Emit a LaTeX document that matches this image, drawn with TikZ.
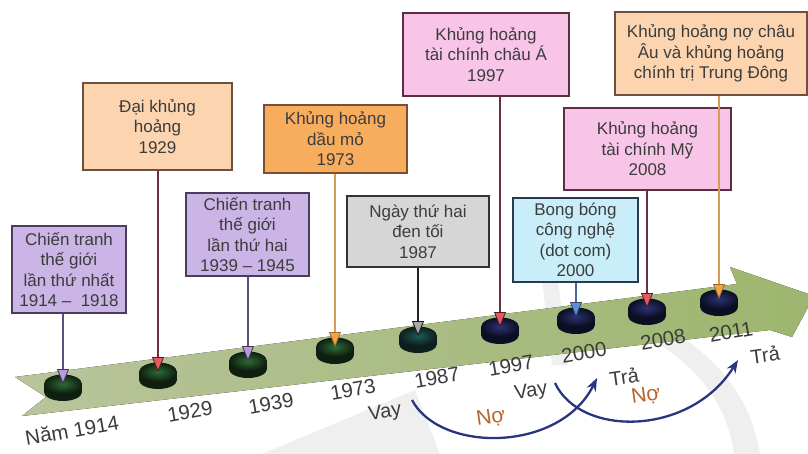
\documentclass[tikz,border=0pt]{standalone}
\usepackage{fontspec}
\setmainfont{Liberation Sans}
\usetikzlibrary{arrows.meta,shadows}
\definecolor{txt}{HTML}{3C3C3C}
\definecolor{fPurple}{HTML}{CBB4E6}\definecolor{ePurple}{HTML}{4B3C5C}
\definecolor{fPeach}{HTML}{FCD5B0}\definecolor{ePeach}{HTML}{6E5040}
\definecolor{fOrange}{HTML}{F8AD5E}\definecolor{eOrange}{HTML}{7A5030}
\definecolor{fGray}{HTML}{D6D6D6}\definecolor{eGray}{HTML}{333333}
\definecolor{fPink}{HTML}{F8C5E8}\definecolor{ePink}{HTML}{5A3040}
\definecolor{fBlue}{HTML}{C9EEFA}\definecolor{eBlue}{HTML}{2A3A50}
\definecolor{bandL}{HTML}{B9C49C}\definecolor{bandR}{HTML}{9DB66E}
\definecolor{hPurple}{HTML}{B79BDC}\definecolor{lPurple}{HTML}{5F4F7F}
\definecolor{hRed}{HTML}{E8585F}\definecolor{lRed}{HTML}{6A2F3A}
\definecolor{hOrange}{HTML}{F4A43A}\definecolor{lOrange}{HTML}{D99A55}
\definecolor{hGray}{HTML}{A8A8A8}\definecolor{lGray}{HTML}{222222}
\definecolor{hBlue}{HTML}{5B8FD8}\definecolor{lBlue}{HTML}{4A6A9A}
\definecolor{arcBlue}{HTML}{2A3580}
\definecolor{noColor}{HTML}{B8642A}
\definecolor{wm}{HTML}{EFEFEF}
\definecolor{pkGreen}{HTML}{2E6B36}\definecolor{pkGreenD}{HTML}{0E1F10}
\definecolor{pkTeal}{HTML}{1F5A55}\definecolor{pkTealD}{HTML}{0C1F1D}
\definecolor{pkNavy}{HTML}{2C3272}\definecolor{pkNavyD}{HTML}{0C0E24}
\newcommand\drawpuck[3]{\begin{scope}[shift={(#1)}]
 \fill[#3] (0,8) ellipse [x radius=19pt, y radius=9pt];
 \fill[#3] (-19,0) rectangle (19,8);
 \shade[inner color=#2, outer color=#3] (0,0) ellipse [x radius=19pt, y radius=9.5pt];
\end{scope}}
\tikzset{
 evbox/.style={rectangle, line width=1.3pt, align=center, text=txt, inner sep=2pt,
   font=\fontsize{17}{20.5}\selectfont,
   drop shadow={shadow xshift=1.3pt, shadow yshift=-1.3pt, opacity=0.35}},
 purplebox/.style={evbox, fill=fPurple, draw=ePurple},
 peachbox/.style={evbox, fill=fPeach, draw=ePeach},
 orangebox/.style={evbox, fill=fOrange, draw=eOrange},
 graybox/.style={evbox, fill=fGray, draw=eGray},
 pinkbox/.style={evbox, fill=fPink, draw=ePink},
 bluebox/.style={evbox, fill=fBlue, draw=eBlue},
 conn/.style 2 args={line width=1.6pt, draw=#1,
   -{Triangle[width=12pt,length=15pt,fill=#2,color=#1!70!black,line width=0.8pt]}},
 yr/.style={font=\fontsize{20.5}{24}\selectfont, text=txt, rotate=10, inner sep=0pt},
 word/.style={font=\fontsize{20}{24}\selectfont, text=txt, rotate=8, inner sep=0pt},
 noword/.style={font=\fontsize{21}{24}\selectfont, text=noColor, rotate=8, inner sep=0pt},
 debt/.style={draw=arcBlue, line width=2.3pt, -{Stealth[length=13pt,width=10pt]}}
}
\begin{document}
\begin{tikzpicture}[x=1pt,y=-1pt]
\useasboundingbox[fill=white] (0,0) rectangle (808,454);
% faint watermark
\fill[wm] (650,338) .. controls (705,372) and (728,410) .. (734,454) -- (760,454)
  .. controls (752,405) and (725,362) .. (668,328) -- cycle;
\fill[wm] (262,454) -- (415,390) -- (440,454) -- cycle;
\fill[wm] (540,262) -- (556,262) -- (568,365) -- (552,365) -- cycle;
% timeline band
\fill[left color=bandL, right color=bandR] (15,377) -- (46,397) -- (22,416) -- (770,330)
  -- (792,337) -- (814,296) -- (730,267) -- (737,284) -- cycle;
% pucks
\coordinate (p1914) at (63,384);
\coordinate (p1929) at (158,372);
\coordinate (p1939) at (248,361);
\coordinate (p1973) at (335,347);
\coordinate (p1987) at (418,336);
\coordinate (p1997) at (500,327);
\coordinate (p2000) at (576,317);
\coordinate (p2008) at (647,308);
\coordinate (p2011) at (719,299);
\drawpuck{p1914}{pkGreen}{pkGreenD}
\drawpuck{p1929}{pkGreen}{pkGreenD}
\drawpuck{p1939}{pkGreen}{pkGreenD}
\drawpuck{p1973}{pkGreen}{pkGreenD}
\drawpuck{p1987}{pkTeal}{pkTealD}
\drawpuck{p1997}{pkNavy}{pkNavyD}
\drawpuck{p2000}{pkNavy}{pkNavyD}
\drawpuck{p2008}{pkNavy}{pkNavyD}
\drawpuck{p2011}{pkNavy}{pkNavyD}
% boxes
\node[peachbox, minimum width=149pt, minimum height=87pt] (b1929) at (157.5,126.5) {Đại khủng\\hoảng\\1929};
\node[orangebox, minimum width=143pt, minimum height=68pt] (b1973) at (335.5,139) {Khủng hoảng\\dầu mỏ\\1973};
\node[pinkbox, minimum width=166pt, minimum height=83pt] (b1997) at (486,54.5) {Khủng hoảng\\tài chính châu Á\\1997};
\node[peachbox, minimum width=192pt, minimum height=83pt] (b2011) at (711,53.5) {Khủng hoảng nợ châu\\Âu và khủng hoảng\\chính trị Trung Đông};
\node[pinkbox, minimum width=167pt, minimum height=82pt] (b2008) at (647.5,149) {Khủng hoảng\\tài chính Mỹ\\2008};
\node[purplebox, minimum width=123pt, minimum height=83pt] (b1939) at (247.5,234.5) {Chiến tranh\\thế giới\\lần thứ hai\\1939 – 1945};
\node[graybox, minimum width=142pt, minimum height=71pt] (b1987) at (418,231.5) {Ngày thứ hai\\đen tối\\1987};
\node[bluebox, minimum width=125pt, minimum height=84pt] (b2000) at (575.5,240) {Bong bóng\\công nghệ\\(dot com)\\2000};
\node[purplebox, minimum width=114pt, minimum height=87pt] (b1914) at (69,269.5) {Chiến tranh\\thế giới\\lần thứ nhất\\1914 –\ \ 1918};
% connectors
\draw[conn={lPurple}{hPurple}] (b1914.south -| p1914) -- (p1914);
\draw[conn={lRed}{hRed}] (b1929.south -| p1929) -- (p1929);
\draw[conn={lPurple}{hPurple}] (b1939.south -| p1939) -- (p1939);
\draw[conn={lOrange}{hOrange}] (b1973.south -| p1973) -- (p1973);
\draw[conn={lGray}{hGray}] (b1987.south -| p1987) -- (p1987);
\draw[conn={lRed}{hRed}] (b1997.south -| p1997) -- (p1997);
\draw[conn={lBlue}{hBlue}] (b2000.south -| p2000) -- (p2000);
\draw[conn={lRed}{hRed}] (b2008.south -| p2008) -- (p2008);
\draw[conn={lOrange}{hOrange}] (b2011.south -| p2011) -- (p2011);
% year labels
\node[yr] (y1914) at (72,430) {Năm 1914};
\node[yr] (y1929) at (190,412) {1929};
\node[yr] (y1939) at (271,404) {1939};
\node[yr] (y1973) at (353,390) {1973};
\node[yr] (y1987) at (437,378) {1987};
\node[yr] (y1997) at (511,366) {1997};
\node[yr] (y2000) at (584,353) {2000};
\node[yr] (y2008) at (663,340) {2008};
\node[yr] (y2011) at (731,332) {2011};
% loans and repayments
\node[word] (vay1) at (385,413) {Vay};
\node[word] (vay2) at (531,392) {Vay};
\node[word] (tra1) at (624,377) {Trả};
\node[word] (tra2) at (765,355) {Trả};
\node[noword] (no1) at (491,418) {Nợ};
\node[noword] (no2) at (646,396) {Nợ};
\coordinate (a1s) at (412,400);
\coordinate (a1e) at (597,378);
\coordinate (a2s) at (555,383);
\coordinate (a2e) at (738,360);
\draw[debt] (a1s) .. controls (440,453) and (560,453) .. (a1e);
\draw[debt] (a2s) .. controls (580,437) and (690,437) .. (a2e);
\end{tikzpicture}
\end{document}
